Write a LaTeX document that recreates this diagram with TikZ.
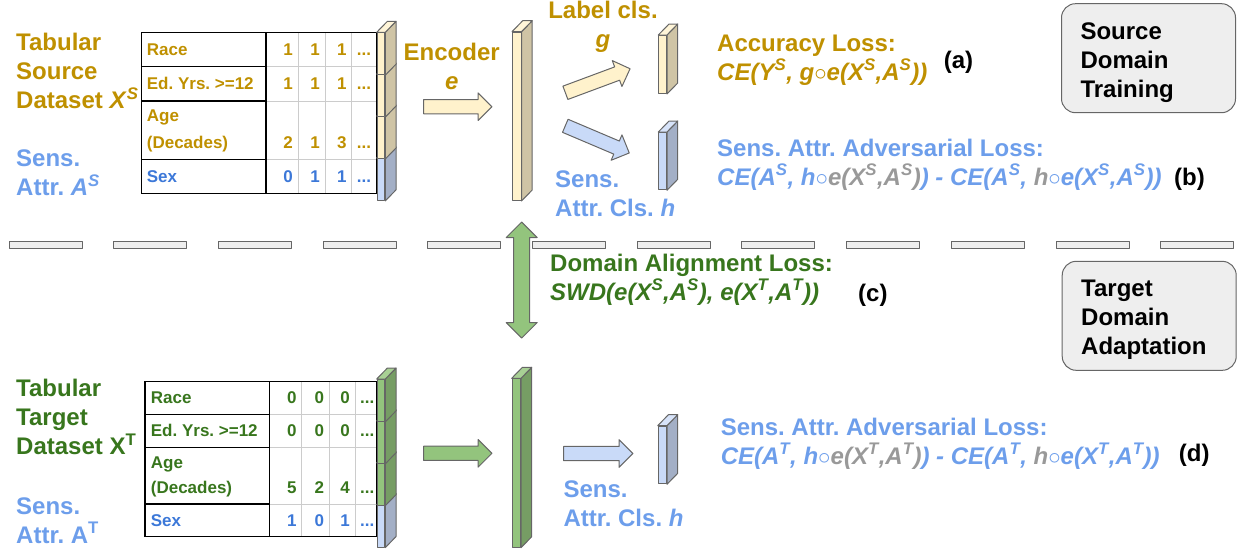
\documentclass[tikz,border=0pt]{standalone}
\usepackage{fontspec}
\setmainfont{Liberation Sans}
\usetikzlibrary{calc,shapes.arrows}

\definecolor{gold}{HTML}{BF9000}
\definecolor{skyb}{HTML}{6D9EEB}
\definecolor{sexb}{HTML}{3C78D8}
\definecolor{leaf}{HTML}{38761D}
\definecolor{ash}{HTML}{999999}
\definecolor{edgec}{HTML}{666666}
\definecolor{gridc}{HTML}{CCCCCC}
\definecolor{panel}{HTML}{EEEEEE}
\definecolor{yfront}{HTML}{FFF2CC}
\definecolor{yside}{HTML}{CFC4A5}
\definecolor{ytop}{HTML}{FFF5D8}
\definecolor{bfront}{HTML}{C9DAF8}
\definecolor{bside}{HTML}{A3AFC6}
\definecolor{btop}{HTML}{D7E3F9}
\definecolor{gfront}{HTML}{93C47D}
\definecolor{gside}{HTML}{769D64}
\definecolor{gtop}{HTML}{A8D094}

\newcommand\bigtxt{\fontsize{24}{29}\selectfont\bfseries}
\newcommand\tabtxt{\fontsize{17}{25}\selectfont\bfseries}
\newcommand\sx[1]{\textsuperscript{#1}}
\newcommand\cubefaces[3]{%
  \draw[edge,fill=#2] (#1.north east) -- ++(10.7,-11) -- ($(#1.south east)+(10.7,-11)$) -- (#1.south east) -- cycle;
  \draw[edge,fill=#3] (#1.north west) -- ++(10.7,-11) -- ($(#1.north east)+(10.7,-11)$) -- (#1.north east) -- cycle;}

\begin{document}
\frenchspacing
\begin{tikzpicture}[
  x=1pt,y=-1pt,
  txt/.style={inner sep=0pt,anchor=base west,align=left,font=\bigtxt},
  cell/.style={inner sep=0pt,anchor=base west,font=\tabtxt},
  num/.style={inner sep=0pt,anchor=base east,font=\tabtxt},
  edge/.style={draw=edgec,line width=1pt,line join=round},
  front/.style={edge,fill=#1,anchor=north west,inner sep=0pt,minimum width=7.6pt},
  blockarrow/.style={edge,fill=#1,single arrow,single arrow head extend=6.7pt,inner xsep=0pt,inner ysep=6.6pt},
  dblarrow/.style={edge,fill=gfront,double arrow,double arrow head extend=7.5pt,inner xsep=0pt,inner ysep=7.5pt,minimum height=116pt,rotate=90},
  phasebox/.style={edge,fill=panel,rounded corners=14pt,minimum width=174pt,minimum height=109pt,text width=136pt,align=left,font=\bigtxt,inner sep=0pt},
  divider/.style={edge,fill=panel}]
\useasboundingbox (0,0) rectangle (1238,552);

% source side (multi-line texts sit on their last baseline)
\node[txt,text=gold] (srcname) at (16,108.7) {Tabular\\Source\\Dataset \textit{X}\sx{\textit{S}}};
\node[txt,text=skyb] (srcsens) at (16,195.5) {Sens.\\Attr. \textit{A}\sx{\textit{S}}};
\draw[gridc,line width=1pt] (298,32.3) -- (298,193.3) (325,32.3) -- (325,193.3) (351.7,32.3) -- (351.7,193.3)
  (266,66.7) -- (376.7,66.7) (266,101) -- (376.7,101) (266,159.3) -- (376.7,159.3);
\draw[line width=1.3pt] (141.7,32.3) rectangle (376.7,193.3) (266,32.3) -- (266,193.3)
  (141.7,66.7) -- (266,66.7) (141.7,101) -- (266,101) (141.7,159.3) -- (266,159.3);
\node[cell,text=gold] (srcage) at (146.7,121.7) {Age};
\foreach \y/\lab/\a/\b/\c/\clr [count=\r] in {55/Race/1/1/1/gold, 89.3/Ed. Yrs. >=12/1/1/1/gold, 148.3/(Decades)/2/1/3/gold, 182.7/Sex/0/1/1/sexb} {
  \node[cell,text=\clr] (srclab\r) at (146.7,\y) {\lab};
  \node[num,text=\clr] (srca\r) at (293,\y) {\a};
  \node[num,text=\clr] (srcb\r) at (320,\y) {\b};
  \node[num,text=\clr] (srcc\r) at (346.7,\y) {\c};
  \node[cell,text=\clr] (srcd\r) at (356.7,\y) {...};
}
\foreach \t/\f/\s/\tp/\n in {158/bfront/bside/btop/4, 116.1/yfront/yside/ytop/3, 74.2/yfront/yside/ytop/2, 32.3/yfront/yside/ytop/1} {
  \node[front=\f,minimum height=41.9pt] (srcblk\n) at (376.7,\t) {};
  \cubefaces{srcblk\n}{\s}{\tp}
}
\node[blockarrow=yfront,minimum height=68.3pt] (encarr) at (454.2,106.7) {};
\node[txt,text=gold,align=center,anchor=base] (enclbl) at (451.7,89.5) {Encoder\\\textit{e}};
\node[front=yfront,minimum width=8.5pt,minimum height=168.3pt] (enc) at (512,31.7) {};
\cubefaces{enc}{yside}{ytop}
\node[blockarrow=yfront,minimum height=69pt,rotate=20.4] (garr) at (594.4,82) {};
\node[blockarrow=bfront,minimum height=69.5pt,rotate=-23] (harr) at (594,138) {};
\node[txt,text=gold,align=center,anchor=base] (glbl) at (603,47.5) {Label cls.\\\textit{g}};
\node[txt,text=skyb] (hlbl) at (555,216) {Sens.\\Attr. Cls. \textit{h}};
\node[front=yfront,minimum width=7.7pt,minimum height=58pt] (gcls) at (658.3,35) {};
\cubefaces{gcls}{yside}{ytop}
\node[front=bfront,minimum width=7.7pt,minimum height=57.3pt] (hcls) at (658.3,132) {};
\cubefaces{hcls}{bside}{btop}
\node[txt,text=gold] (accloss) at (717,80) {Accuracy Loss:\\\textit{CE(Y\sx{S}, g$\circ$e(X\sx{S},A\sx{S}))}};
\node[txt] (taga) at (943.6,68) {(a)};
\node[txt,text=skyb] (advsrc) at (717,185) {Sens. Attr. Adversarial Loss:\\\textit{CE(A\sx{S}, h$\circ$\textcolor{ash}{e(X\sx{S},A\sx{S})}) - CE(A\sx{S}, \textcolor{ash}{h}$\circ$e(X\sx{S},A\sx{S}))}};
\node[txt] (tagb) at (1174,185) {(b)};
\node[phasebox] (srcphase) at (1148.5,58.2) {\rule{0pt}{25.5pt}Source\\Domain\\Training};

% divider and alignment
\foreach \i in {0,...,11}
  \draw[divider] ({9+104.7*\i},241.5) rectangle ++(73,7);
\node[dblarrow] (swdarr) at (521.7,280) {};
\node[txt,text=leaf] (swdloss) at (550,300) {Domain Alignment Loss:\\\textit{SWD(e(X\sx{S},A\sx{S}), e(X\sx{T},A\sx{T}))}};
\node[txt] (tagc) at (858,301) {(c)};
\node[phasebox] (tgtphase) at (1149.2,315.8) {\rule{0pt}{24pt}Target\\Domain\\Adaptation};

% target side
\node[txt,text=leaf] (tgtname) at (16,454.7) {Tabular\\Target\\Dataset X\sx{T}};
\node[txt,text=skyb] (tgtsens) at (16,543) {Sens.\\Attr. A\sx{T}};
\draw[gridc,line width=1pt] (301.7,381.7) -- (301.7,536.7) (329.3,381.7) -- (329.3,536.7) (355,381.7) -- (355,536.7)
  (269.3,414.3) -- (376.7,414.3) (269.3,447.3) -- (376.7,447.3) (269.3,504) -- (376.7,504);
\draw[line width=1.3pt] (145,381.7) rectangle (376.7,536.7) (269.3,381.7) -- (269.3,536.7)
  (145,414.3) -- (269.3,414.3) (145,447.3) -- (269.3,447.3) (145,504) -- (269.3,504);
\node[cell,text=leaf] (tgtage) at (150.7,468.3) {Age};
\foreach \y/\lab/\a/\b/\c/\clr [count=\r] in {403.3/Race/0/0/0/leaf, 436/Ed. Yrs. >=12/0/0/0/leaf, 493.3/(Decades)/5/2/4/leaf, 526/Sex/1/0/1/sexb} {
  \node[cell,text=\clr] (tgtlab\r) at (150.7,\y) {\lab};
  \node[num,text=\clr] (tgta\r) at (296.7,\y) {\a};
  \node[num,text=\clr] (tgtb\r) at (324.3,\y) {\b};
  \node[num,text=\clr] (tgtc\r) at (350,\y) {\c};
  \node[cell,text=\clr] (tgtd\r) at (360,\y) {...};
}
\foreach \t/\f/\s/\tp/\n in {504.7/bfront/bside/btop/4, 462.8/gfront/gside/gtop/3, 420.9/gfront/gside/gtop/2, 379/gfront/gside/gtop/1} {
  \node[front=\f,minimum height=41.9pt] (tgtblk\n) at (376.7,\t) {};
  \cubefaces{tgtblk\n}{\s}{\tp}
}
\node[blockarrow=gfront,minimum height=68.3pt] (tencarr) at (454.2,453.3) {};
\node[front=gfront,minimum width=8.3pt,minimum height=168.4pt] (tenc) at (511.7,378.3) {};
\cubefaces{tenc}{gside}{gtop}
\node[blockarrow=bfront,minimum height=69.3pt] (tharr) at (594.7,453.5) {};
\node[txt,text=skyb] (thlbl) at (563.3,526.7) {Sens.\\Attr. Cls. \textit{h}};
\node[front=bfront,minimum width=8.3pt,minimum height=57.6pt] (tcls) at (657.7,425.7) {};
\cubefaces{tcls}{bside}{btop}
\node[txt,text=skyb] (advtgt) at (720.6,464) {Sens. Attr. Adversarial Loss:\\\textit{CE(A\sx{T}, h$\circ$\textcolor{ash}{e(X\sx{T},A\sx{T})}) - CE(A\sx{T}, \textcolor{ash}{h}$\circ$e(X\sx{T},A\sx{T}))}};
\node[txt] (tagd) at (1178.7,461) {(d)};
\end{tikzpicture}
\end{document}
